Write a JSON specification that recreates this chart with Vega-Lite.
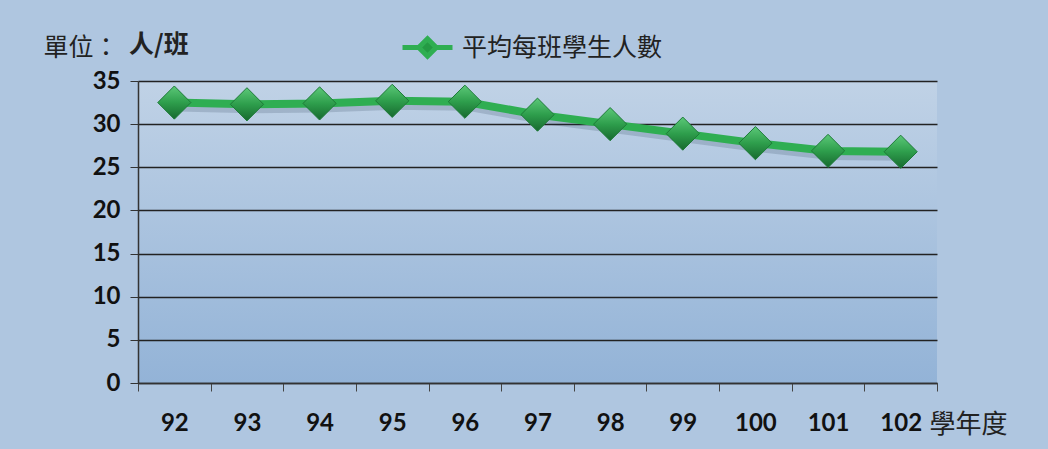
{
  "$schema": "https://vega.github.io/schema/vega-lite/v6.json",
  "width": 799,
  "height": 302,
  "autosize": {"type": "none"},
  "padding": {"left": 138, "top": 81, "right": 111, "bottom": 66},
  "background": "#afc6e0",
  "config": {
    "view": {
      "stroke": null,
      "fill": {"gradient": "linear", "x1": 0, "y1": 0, "x2": 0, "y2": 1,
        "stops": [{"offset": 0, "color": "#c0d2e6"}, {"offset": 1, "color": "#93b3d7"}]}
    },
    "font": "Noto Sans CJK TC"
  },
  "title": {
    "text": "人/班",
    "anchor": "start",
    "frame": "group",
    "fontSize": 25,
    "fontWeight": "bold",
    "font": "Noto Sans CJK TC",
    "color": "#222222",
    "dx": -9,
    "dy": 38,
    "offset": 0
  },
  "data": {
    "values": [
      {"year": 92, "avg": 32.5},
      {"year": 93, "avg": 32.3},
      {"year": 94, "avg": 32.4},
      {"year": 95, "avg": 32.7},
      {"year": 96, "avg": 32.6},
      {"year": 97, "avg": 31.1},
      {"year": 98, "avg": 30.0},
      {"year": 99, "avg": 28.9},
      {"year": 100, "avg": 27.8},
      {"year": 101, "avg": 26.9},
      {"year": 102, "avg": 26.8}
    ]
  },
  "encoding": {
    "x": {
      "field": "year",
      "type": "ordinal",
      "bandPosition": 0.5,
      "scale": {"type": "band", "paddingInner": 0, "paddingOuter": 0},
      "axis": {
        "grid": false,
        "domainColor": "#333333",
        "domainWidth": 1.5,
        "tickColor": "#444444",
        "tickSize": 8,
        "tickBand": "extent",
        "labelAngle": 0,
        "labelFont": "Lato",
        "labelFontSize": 24,
        "labelFontWeight": "bold",
        "labelColor": "#111111",
        "labelPadding": 20,
        "title": "學年度",
        "titleFont": "Noto Sans CJK TC",
        "titleFontSize": 26,
        "titleFontWeight": "normal",
        "titleColor": "#222222",
        "titleAlign": "left",
        "titleBaseline": "middle",
        "titleX": 791,
        "titleY": 41
      }
    },
    "y": {
      "field": "avg",
      "type": "quantitative",
      "scale": {"domain": [0, 35], "nice": false, "zero": true},
      "axis": {
        "values": [0, 5, 10, 15, 20, 25, 30, 35],
        "grid": true,
        "gridColor": "#222222",
        "gridWidth": 1.3,
        "domainColor": "#333333",
        "domainWidth": 1.5,
        "tickColor": "#333333",
        "tickSize": 8,
        "labelFont": "Lato",
        "labelFontSize": 24,
        "labelFontWeight": "bold",
        "labelColor": "#111111",
        "labelPadding": 10,
        "title": "單位：",
        "titleFont": "Noto Sans CJK TC",
        "titleFontSize": 25,
        "titleFontWeight": "normal",
        "titleColor": "#222222",
        "titleAngle": 0,
        "titleAlign": "left",
        "titleBaseline": "middle",
        "titleX": -95,
        "titleY": -34
      }
    }
  },
  "layer": [
    {
      "mark": {"type": "line", "strokeWidth": 8, "color": "#1f3550", "opacity": 0.18, "xOffset": 3, "yOffset": 5},
      "encoding": {}
    },
    {
      "mark": {"type": "line", "strokeWidth": 8},
      "encoding": {
        "color": {
          "datum": "平均每班學生人數",
          "type": "nominal",
          "scale": {"range": ["#2fae52"]},
          "legend": {
            "title": null,
            "orient": "none",
            "legendX": 262,
            "legendY": -61,
            "padding": 0,
            "symbolType": "M-1,0H-0.3M0.3,0H1M0,-0.35L0.35,0L0,0.35L-0.35,0Z",
            "symbolSize": 2500,
            "symbolStrokeWidth": 5,
            "symbolStrokeColor": "#2fae52",
            "symbolFillColor": "#249a44",
            "labelFont": "Noto Sans CJK TC",
            "labelFontSize": 25,
            "labelColor": "#222222",
            "labelOffset": 7,
            "labelLimit": 400
          }
        }
      }
    },
    {
      "mark": {
        "type": "point",
        "shape": "diamond",
        "filled": true,
        "size": 1100,
        "opacity": 1,
        "fill": {"gradient": "linear", "x1": 0, "y1": 0, "x2": 0, "y2": 1,
          "stops": [{"offset": 0, "color": "#5cc878"}, {"offset": 0.5, "color": "#2e9e4c"}, {"offset": 1, "color": "#17692f"}]},
        "stroke": "#1d7a37",
        "strokeWidth": 1
      }
    }
  ]
}
